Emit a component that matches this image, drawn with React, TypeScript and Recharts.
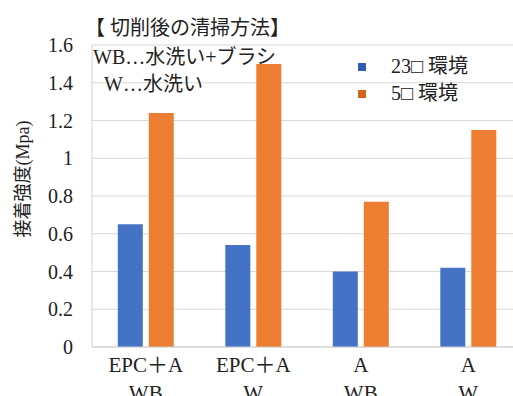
import React from "react";
import { BarChart, Bar, XAxis, YAxis, CartesianGrid } from "recharts";

// Adhesion strength by surface cleaning method after cutting
const materials = ["EPC＋A", "EPC＋A", "A", "A"];
const methods = ["WB", "W", "WB", "W"];
const temp23 = [0.65, 0.54, 0.4, 0.42];
const temp5 = [1.24, 1.5, 0.77, 1.15];
const yTicks = [0, 0.2, 0.4, 0.6, 0.8, 1, 1.2, 1.4, 1.6];
const seriesNames = ["23□ 環境", "5□ 環境"];
const yAxisTitle = "接着強度(Mpa)";

const data = materials.map((m, i) => ({
  key: `${m}-${methods[i]}`,
  material: m,
  method: methods[i],
  t23: temp23[i],
  t5: temp5[i],
}));

const SERIF = '"Liberation Serif", "Noto Sans CJK JP", serif';
const BLUE = "#4472C4";
const ORANGE = "#ED7D31";

const CategoryTick = (props: any) => {
  const { x, y, payload } = props;
  const i = payload.index;
  return (
    <g transform={`translate(${x},${y})`}>
      <text x={0} y={17} textAnchor="middle" fontFamily={SERIF} fontSize={21} fill="#222">
        {materials[i]}
      </text>
      <text x={0} y={45} textAnchor="middle" fontFamily={SERIF} fontSize={21} fill="#222">
        {methods[i]}
      </text>
    </g>
  );
};

const AxisTitle = () => (
  <text
    transform="translate(23,179) rotate(-90)"
    textAnchor="middle"
    dominantBaseline="central"
    fontFamily={SERIF}
    fontSize={18}
    fill="#222"
  >
    {yAxisTitle}
  </text>
);

const LegendBox = () => (
  <div
    style={{
      position: "absolute",
      left: 358,
      top: 53,
      fontFamily: SERIF,
      fontSize: 20,
      color: "#222",
      lineHeight: "27px",
      whiteSpace: "nowrap",
    }}
  >
    {seriesNames.map((n, i) => (
      <div key={n} style={{ display: "flex", alignItems: "center" }}>
        <span
          style={{
            display: "inline-block",
            width: 8,
            height: 8,
            background: i === 0 ? "#2F5BB0" : "#D2641C",
            marginRight: 25,
          }}
        />
        <span>{n}</span>
      </div>
    ))}
  </div>
);

export default function App() {
  return (
    <div
      style={{
        position: "fixed",
        left: 0,
        top: 0,
        width: 513,
        height: 396,
        overflow: "hidden",
        background: "#fff",
      }}
    >
      <BarChart
        width={540}
        height={396}
        data={data}
        margin={{ top: 45, right: 18, bottom: 0, left: 0 }}
        barCategoryGap="24%"
        barGap={6}
      >
        <CartesianGrid horizontal vertical={false} stroke="#d9d9d9" strokeWidth={1.2} />
        <XAxis
          dataKey="key"
          height={49}
          axisLine={{ stroke: "#d0d0d0", strokeWidth: 1.2 }}
          tickLine={false}
          tick={<CategoryTick />}
          interval={0}
        />
        <YAxis
          width={92}
          domain={[0, 1.6]}
          ticks={yTicks}
          interval={0}
          axisLine={{ stroke: "#d9d9d9", strokeWidth: 1.2 }}
          tickLine={false}
          tickMargin={13}
          tick={{ fontFamily: SERIF, fontSize: 20, fill: "#222" }}
          label={{ content: () => <AxisTitle /> }}
        />
        <Bar dataKey="t23" name={seriesNames[0]} fill={BLUE} isAnimationActive={false} />
        <Bar dataKey="t5" name={seriesNames[1]} fill={ORANGE} isAnimationActive={false} />
      </BarChart>
      <LegendBox />
      <div
        style={{
          position: "absolute",
          left: 85,
          top: 14,
          fontFamily: SERIF,
          fontSize: 20,
          lineHeight: "28px",
          color: "#222",
          whiteSpace: "nowrap",
        }}
      >
        【 切削後の清掃方法】
      </div>
      <div
        style={{
          position: "absolute",
          left: 93,
          top: 44,
          fontFamily: SERIF,
          fontSize: 20,
          color: "#222",
          whiteSpace: "nowrap",
          lineHeight: "27px",
        }}
      >
        <div>WB…水洗い+ブラシ</div>
        <div style={{ paddingLeft: 11 }}>W…水洗い</div>
      </div>
    </div>
  );
}
